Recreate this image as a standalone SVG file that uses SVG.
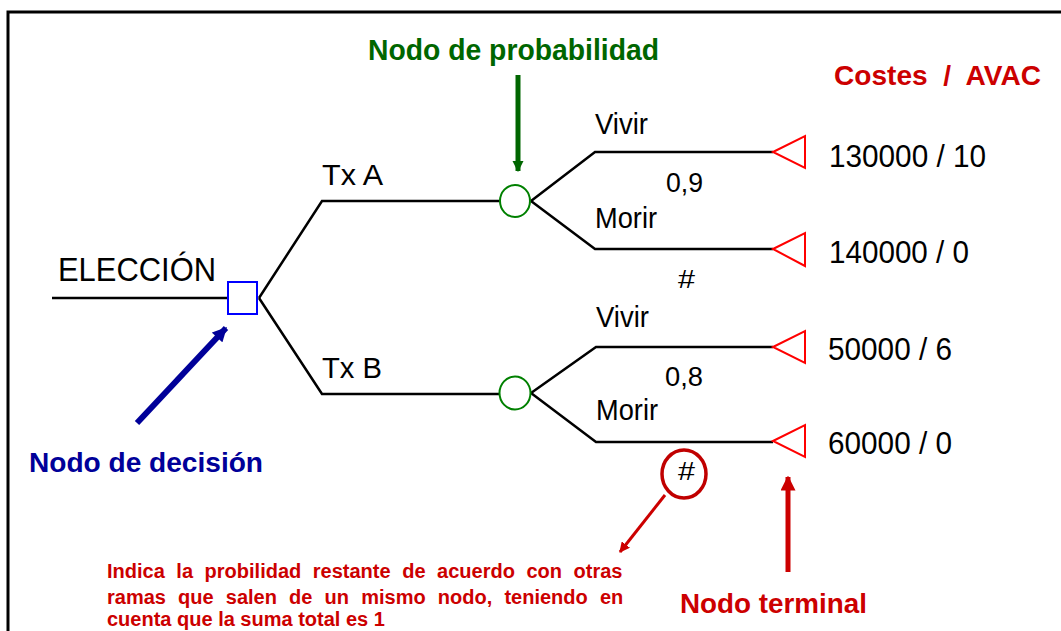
<svg xmlns="http://www.w3.org/2000/svg" width="1061" height="631" viewBox="0 0 1061 631">
<style>
.t{font-family:"Liberation Sans",Arial,sans-serif;fill:#000;}
.b{font-family:"Liberation Sans",Arial,sans-serif;font-weight:bold;}
.ln{fill:none;stroke:#000;stroke-width:2.5;}
.tri{fill:#fff;stroke:#ff0000;stroke-width:2;}
.chance{fill:#fff;stroke:#008000;stroke-width:2;}
</style>
<defs>
<marker id="ag" viewBox="0 0 10 10" refX="9" refY="5" markerWidth="2.2" markerHeight="2.4" orient="auto" markerUnits="strokeWidth"><path d="M0,0 L10,5 L0,10 z" fill="#006600"/></marker>
<marker id="ab" viewBox="0 0 10 10" refX="9" refY="5" markerWidth="2.6" markerHeight="2.4" orient="auto" markerUnits="strokeWidth"><path d="M0,0 L10,5 L0,10 z" fill="#000099"/></marker>
<marker id="ar" viewBox="0 0 10 10" refX="9" refY="5" markerWidth="3.5" markerHeight="3.5" orient="auto" markerUnits="strokeWidth"><path d="M0,0 L10,5 L0,10 z" fill="#cc0000"/></marker>
<marker id="ar2" viewBox="0 0 10 10" refX="9" refY="5" markerWidth="3" markerHeight="3" orient="auto" markerUnits="strokeWidth"><path d="M0,0 L10,5 L0,10 z" fill="#cc0000"/></marker>
</defs>
<rect x="0" y="0" width="1061" height="631" fill="#fff"/>
<rect x="8" y="12" width="1070" height="640" fill="none" stroke="#000" stroke-width="3"/>

<g id="connectors">
<path class="ln" d="M52,298 H228"/>
<path class="ln" d="M259,298 L322,201 H500"/>
<path class="ln" d="M259,298 L322,394 H500"/>
<path class="ln" d="M531,201 L595,152 H773"/>
<path class="ln" d="M531,201 L595,249 H773"/>
<path class="ln" d="M531,393 L596,347 H773"/>
<path class="ln" d="M531,393 L596,442 H773"/>
<line x1="518" y1="75" x2="518" y2="171" stroke="#006600" stroke-width="5" marker-end="url(#ag)"/>
<line x1="137" y1="423" x2="226" y2="328" stroke="#000099" stroke-width="6" marker-end="url(#ab)"/>
<line x1="665" y1="495" x2="620" y2="552" stroke="#cc0000" stroke-width="3" marker-end="url(#ar)"/>
<line x1="788" y1="572" x2="788" y2="477" stroke="#cc0000" stroke-width="5" marker-end="url(#ar2)"/>
</g>

<g id="decision">
<rect x="228" y="282" width="29" height="32" fill="#fff" stroke="#0000ff" stroke-width="2"/>
<text class="t" x="58" y="281" font-size="33" textLength="158" lengthAdjust="spacingAndGlyphs">ELECCIÓN</text>
<text class="t" x="322" y="185" font-size="30" textLength="61" lengthAdjust="spacingAndGlyphs">Tx A</text>
<text class="t" x="322" y="378" font-size="30" textLength="60" lengthAdjust="spacingAndGlyphs">Tx B</text>
</g>

<g id="chanceA">
<ellipse class="chance" cx="515" cy="201" rx="15" ry="16"/>
<text class="t" x="595" y="134" font-size="29" textLength="53" lengthAdjust="spacingAndGlyphs">Vivir</text>
<text class="t" x="666" y="192" font-size="27" textLength="37" lengthAdjust="spacingAndGlyphs">0,9</text>
<text class="t" x="595" y="228" font-size="29" textLength="62" lengthAdjust="spacingAndGlyphs">Morir</text>
<text class="t" x="678" y="288" font-size="26" textLength="17" lengthAdjust="spacingAndGlyphs">#</text>
</g>

<g id="chanceB">
<ellipse class="chance" cx="515" cy="393" rx="15.5" ry="16.5"/>
<text class="t" x="596" y="327" font-size="29" textLength="53" lengthAdjust="spacingAndGlyphs">Vivir</text>
<text class="t" x="665" y="386" font-size="27" textLength="38" lengthAdjust="spacingAndGlyphs">0,8</text>
<text class="t" x="596" y="420" font-size="29" textLength="62" lengthAdjust="spacingAndGlyphs">Morir</text>
<text class="t" x="678" y="480" font-size="26" textLength="17" lengthAdjust="spacingAndGlyphs">#</text>
<ellipse cx="684" cy="474" rx="22" ry="24" fill="none" stroke="#c00000" stroke-width="3.5"/>
</g>

<g id="terminal1">
<path class="tri" d="M773,152 L805,136 L805,168 Z"/>
<text class="t" x="829" y="167" font-size="31" textLength="157" lengthAdjust="spacingAndGlyphs">130000 / 10</text>
</g>
<g id="terminal2">
<path class="tri" d="M773,249 L805,233 L805,266 Z"/>
<text class="t" x="829" y="263" font-size="31" textLength="140" lengthAdjust="spacingAndGlyphs">140000 / 0</text>
</g>
<g id="terminal3">
<path class="tri" d="M773,347 L805,331 L805,363 Z"/>
<text class="t" x="828" y="360" font-size="31" textLength="124" lengthAdjust="spacingAndGlyphs">50000 / 6</text>
</g>
<g id="terminal4">
<path class="tri" d="M773,441 L805,425 L805,457 Z"/>
<text class="t" x="828" y="454" font-size="31" textLength="124" lengthAdjust="spacingAndGlyphs">60000 / 0</text>
</g>

<g id="labels">
<text class="b" x="368" y="60" font-size="29" fill="#006600" textLength="291" lengthAdjust="spacingAndGlyphs">Nodo de probabilidad</text>
<text class="b" x="834" y="85" font-size="28" fill="#cc0000" xml:space="preserve" style="white-space:pre" textLength="207" lengthAdjust="spacingAndGlyphs">Costes  /  AVAC</text>
<text class="b" x="29" y="472" font-size="28" fill="#000099" textLength="234" lengthAdjust="spacingAndGlyphs">Nodo de decisión</text>
<text class="b" x="680" y="613" font-size="28" fill="#cc0000" textLength="187" lengthAdjust="spacingAndGlyphs">Nodo terminal</text>
<text class="b" font-size="20" fill="#cc0000">
<tspan x="107" y="578" word-spacing="6">Indica la probilidad restante de acuerdo con otras</tspan>
<tspan x="107" y="604" word-spacing="6.6">ramas que salen de un mismo nodo, teniendo en</tspan>
<tspan x="107" y="626">cuenta que la suma total es 1</tspan>
</text>
</g>
</svg>
